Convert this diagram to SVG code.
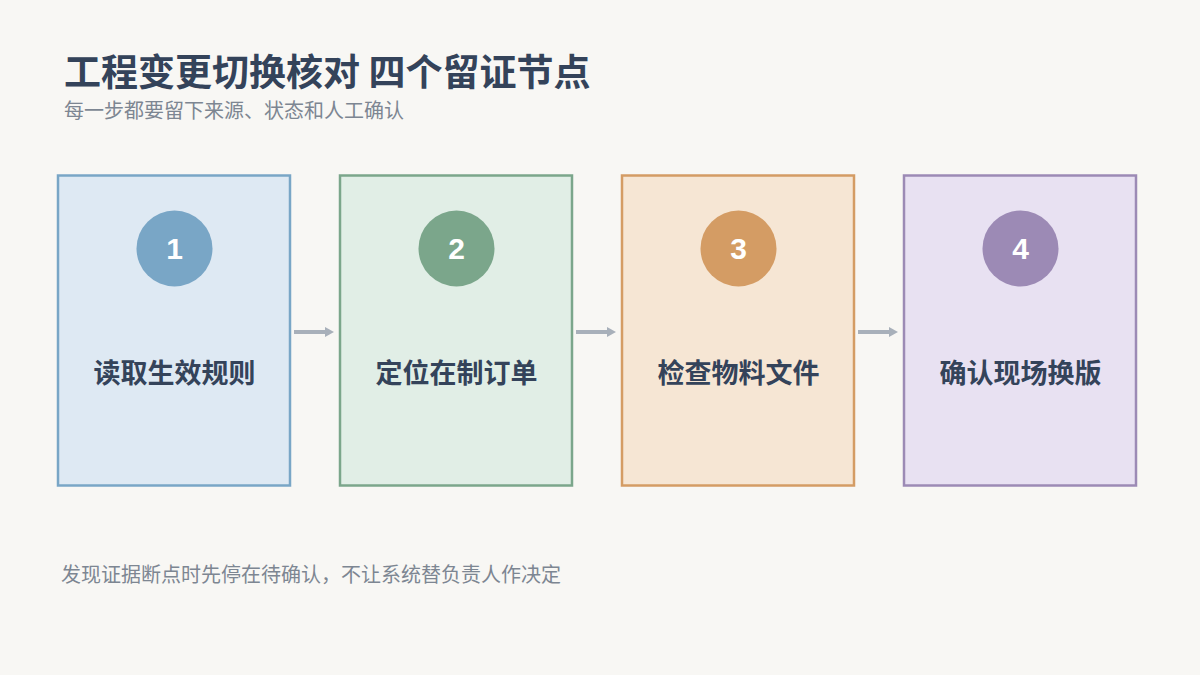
<svg xmlns="http://www.w3.org/2000/svg" width="1200" height="675" viewBox="0 0 1200 675">
<defs>
<style>
.t{font-family:"Noto Sans CJK SC","Liberation Sans",sans-serif;}
.title{font-size:37px;font-weight:700;fill:#34435A;}
.sub{font-size:20px;fill:#7D8692;}
.lab{font-size:27px;font-weight:700;fill:#34435A;text-anchor:middle;}
.num{font-family:"Liberation Sans",Arial,sans-serif;font-size:30px;font-weight:700;fill:#FFFFFF;text-anchor:middle;}
.box{stroke-width:2.5;}
.conn{stroke:#A8B0BA;stroke-width:4;fill:none;}
</style>
<marker id="ah" markerWidth="10" markerHeight="10" refX="0" refY="5" orient="auto" markerUnits="userSpaceOnUse">
<path d="M0,0 L9,5 L0,10 Z" fill="#A8B0BA"/>
</marker>
</defs>
<rect width="1200" height="675" fill="#F8F7F4"/>
<text class="t title" x="64" y="86">工程变更切换核对 四个留证节点</text>
<text class="t sub" x="64" y="118">每一步都要留下来源、状态和人工确认</text>

<g id="node1">
<rect class="box" x="58" y="175.5" width="232" height="310" fill="#DEE9F3" stroke="#79A6C6"/>
<circle cx="174.5" cy="248.5" r="38" fill="#79A6C6"/>
<text class="num" x="174.5" y="259">1</text>
<text class="t lab" x="174.5" y="383">读取生效规则</text>
</g>
<g id="node2">
<rect class="box" x="340" y="175.5" width="232" height="310" fill="#E1EEE6" stroke="#7BA68B"/>
<circle cx="456.5" cy="248.5" r="38" fill="#7BA68B"/>
<text class="num" x="456.5" y="259">2</text>
<text class="t lab" x="456.5" y="383">定位在制订单</text>
</g>
<g id="node3">
<rect class="box" x="622" y="175.5" width="232" height="310" fill="#F6E6D4" stroke="#D49C64"/>
<circle cx="738.5" cy="248.5" r="38" fill="#D49C64"/>
<text class="num" x="738.5" y="259">3</text>
<text class="t lab" x="738.5" y="383">检查物料文件</text>
</g>
<g id="node4">
<rect class="box" x="904" y="175.5" width="232" height="310" fill="#E8E1F2" stroke="#9C8AB5"/>
<circle cx="1020.5" cy="248.5" r="38" fill="#9C8AB5"/>
<text class="num" x="1020.5" y="259">4</text>
<text class="t lab" x="1020.5" y="383">确认现场换版</text>
</g>

<g id="connectors">
<line class="conn" x1="294" y1="332" x2="325" y2="332" marker-end="url(#ah)"/>
<line class="conn" x1="576" y1="332" x2="607" y2="332" marker-end="url(#ah)"/>
<line class="conn" x1="858" y1="332" x2="889" y2="332" marker-end="url(#ah)"/>
</g>

<text class="t sub" x="61" y="582">发现证据断点时先停在待确认，不让系统替负责人作决定</text>
</svg>
